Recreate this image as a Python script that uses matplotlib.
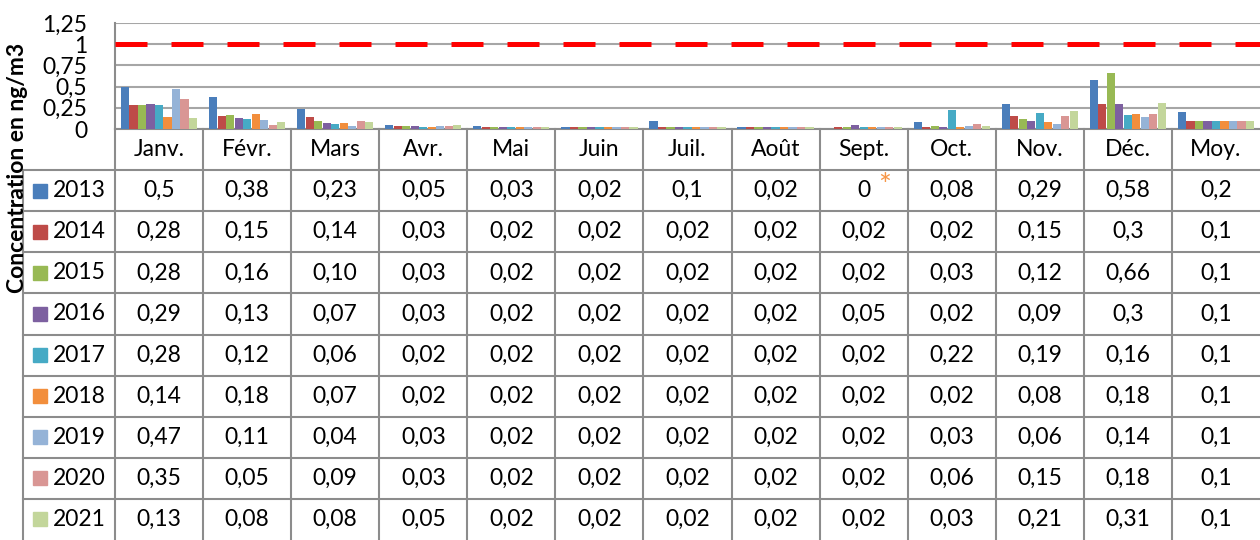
import numpy as np
import matplotlib
matplotlib.use("Agg")
import matplotlib.pyplot as plt

plt.rcParams['font.family'] = ['Lato', 'DejaVu Sans']

months = ['Janv.', 'Févr.', 'Mars', 'Avr.', 'Mai', 'Juin', 'Juil.', 'Août',
          'Sept.', 'Oct.', 'Nov.', 'Déc.', 'Moy.']
years = ['2013', '2014', '2015', '2016', '2017', '2018', '2019', '2020', '2021']
colors = ['#4A7EBB', '#BE4B48', '#98B954', '#7D60A0', '#46AAC5',
          '#F28E3C', '#95B3D7', '#D99694', '#C3D69B']

# values as printed in the data table
v2013 = ['0,5', '0,38', '0,23', '0,05', '0,03', '0,02', '0,1', '0,02', '0', '0,08', '0,29', '0,58', '0,2']
v2014 = ['0,28', '0,15', '0,14', '0,03', '0,02', '0,02', '0,02', '0,02', '0,02', '0,02', '0,15', '0,3', '0,1']
v2015 = ['0,28', '0,16', '0,10', '0,03', '0,02', '0,02', '0,02', '0,02', '0,02', '0,03', '0,12', '0,66', '0,1']
v2016 = ['0,29', '0,13', '0,07', '0,03', '0,02', '0,02', '0,02', '0,02', '0,05', '0,02', '0,09', '0,3', '0,1']
v2017 = ['0,28', '0,12', '0,06', '0,02', '0,02', '0,02', '0,02', '0,02', '0,02', '0,22', '0,19', '0,16', '0,1']
v2018 = ['0,14', '0,18', '0,07', '0,02', '0,02', '0,02', '0,02', '0,02', '0,02', '0,02', '0,08', '0,18', '0,1']
v2019 = ['0,47', '0,11', '0,04', '0,03', '0,02', '0,02', '0,02', '0,02', '0,02', '0,03', '0,06', '0,14', '0,1']
v2020 = ['0,35', '0,05', '0,09', '0,03', '0,02', '0,02', '0,02', '0,02', '0,02', '0,06', '0,15', '0,18', '0,1']
v2021 = ['0,13', '0,08', '0,08', '0,05', '0,02', '0,02', '0,02', '0,02', '0,02', '0,03', '0,21', '0,31', '0,1']
rows = [v2013, v2014, v2015, v2016, v2017, v2018, v2019, v2020, v2021]
limit_value = 1.0
yticks = [0, 0.25, 0.5, 0.75, 1, 1.25]
ytick_labels = ['0', '0,25', '0,5', '0,75', '1', '1,25']

W, H = 1260, 540
fig = plt.figure(figsize=(W / 100, H / 100), dpi=100)
gridc = '#A6A6A6'
linec = '#8C8C8C'
fs = 16.5

# chart part
ax = fig.add_axes([115 / W, 1 - 129 / H, 1145 / W, 106 / H])
x = np.arange(len(months))
bw = 0.093
for i, (yr, vals) in enumerate(zip(years, rows)):
    nums = [float(s.replace(',', '.')) for s in vals]
    ax.bar(x + (i - 4) * 0.0965, nums, width=bw, color=colors[i], zorder=3)
ax.axhline(limit_value, color='#FF0000', lw=3.6, dashes=(6.4, 4.8), zorder=4)
ax.set_xlim(-0.5, len(months) - 0.5)
ax.set_ylim(0, 1.25)
ax.set_yticks(yticks)
ax.set_yticklabels(ytick_labels, fontsize=fs)
ax.tick_params(axis='y', length=0, pad=20)
ax.set_xticks([])
ax.grid(axis='y', color=gridc, lw=1.5, zorder=0)
for s in ['top', 'right']:
    ax.spines[s].set_visible(False)
ax.spines['left'].set_color(linec)
ax.spines['left'].set_linewidth(1.5)
ax.spines['bottom'].set_color(linec)
ax.spines['bottom'].set_linewidth(1.5)

# data table part
col_w = 1145 / 13
leg_w = 92 / col_w
tab = fig.add_axes([23 / W, 0, (W - 23) / W, 411 / H])
left = -0.5 - leg_w
tab.set_xlim(left, len(months) - 0.5)
tab.set_ylim(len(years) + 1, 0)
tab.axis('off')
for k in range(1, len(years) + 1):
    tab.plot([left, len(months) - 0.5], [k, k], color=linec, lw=1.5, clip_on=False)
tab.plot([left, left], [1, len(years) + 1], color=linec, lw=1.5, clip_on=False)
for k in range(len(months)):
    tab.plot([k - 0.5, k - 0.5], [0, len(years) + 1], color=linec, lw=1.5, clip_on=False)

for j, m in enumerate(months):
    tab.text(j, 0.5, m, ha='center', va='center', fontsize=fs)
for i, (yr, vals) in enumerate(zip(years, rows)):
    yc = i + 1.5
    tab.plot(left + 0.19, yc, marker='s', ms=10, color=colors[i], clip_on=False)
    tab.text(left + 0.34, yc, yr, ha='left', va='center', fontsize=fs)
    for j, s in enumerate(vals):
        tab.text(j, yc, s, ha='center', va='center', fontsize=fs)

# asterisk for Sept. 2013
tab.annotate('*', xy=(months.index('Sept.'), 1.5), xytext=(15, 3),
             textcoords='offset points', color='#F79646', fontsize=22,
             ha='center', va='center')

fig.text(18 / W, 1 - 168 / H, 'Concentration en ng/m3', rotation=90,
         ha='center', va='center', fontsize=16.5, fontweight='bold')

fig.savefig('out.png', dpi=100)
